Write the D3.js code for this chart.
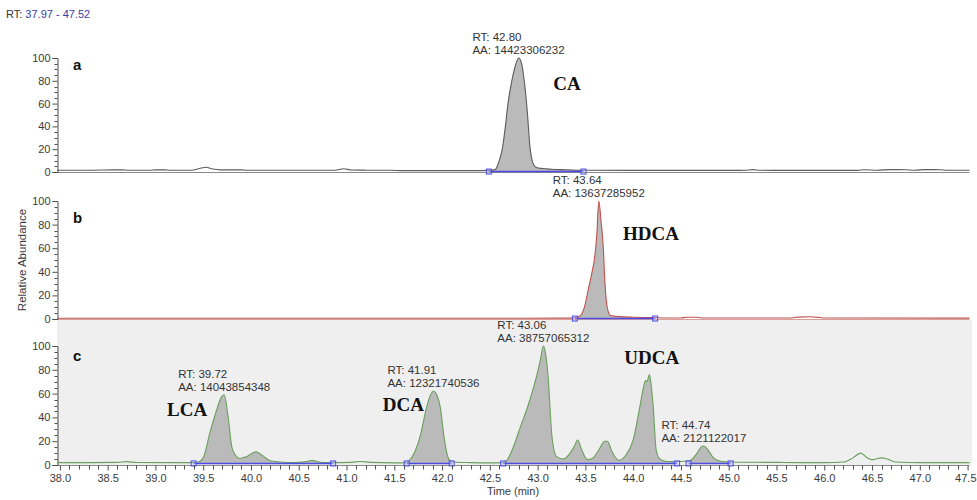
<!DOCTYPE html>
<html>
<head>
<meta charset="utf-8">
<script src="https://cdn.jsdelivr.net/npm/d3@7"></script>
<style>
  body { margin: 0; background: #fff; }
  text { font-family: "Liberation Sans", Arial, sans-serif; }
</style>
</head>
<body>
<svg id="chart" width="977" height="500"></svg>
<script>
// ---- data ---------------------------------------------------------------
const rtRange = [37.97, 47.52];
const timeTicks = [38.0, 38.5, 39.0, 39.5, 40.0, 40.5, 41.0, 41.5, 42.0, 42.5,
                   43.0, 43.5, 44.0, 44.5, 45.0, 45.5, 46.0, 46.5, 47.0, 47.5];
const abundanceTicks = [0, 20, 40, 60, 80, 100];
const panelNames = ["a", "b", "c"];

// [retention time (min), relative abundance (%)]
const traceCA = [
  [37.97, 1.5], [38.3, 1.5], [38.55, 1.9], [38.65, 1.9], [38.72, 1.5], [38.95, 1.5],
  [39.0, 1.9], [39.1, 1.9], [39.15, 1.5], [39.38, 1.6], [39.46, 3], [39.53, 4.2],
  [39.6, 2.6], [39.68, 1.9], [39.9, 1.9], [39.96, 1.5], [40.4, 1.5], [40.88, 1.6],
  [40.97, 2.8], [41.05, 1.8], [41.2, 1.6], [41.46, 1.5], [41.6, 1.2], [42.0, 1.2],
  [42.3, 1.2], [42.5, 1.4], [42.56, 2.5], [42.59, 8], [42.63, 20], [42.66, 38],
  [42.69, 60], [42.73, 80], [42.77, 94], [42.80, 100], [42.83, 96], [42.86, 80],
  [42.89, 55], [42.92, 22], [42.95, 8], [42.98, 4.2], [43.05, 3], [43.15, 2.4],
  [43.3, 2], [43.5, 1.5], [44.0, 1.4], [44.5, 1.4], [45.0, 1.4], [45.17, 1.5],
  [45.25, 2.1], [45.33, 1.5], [45.6, 1.4], [46.35, 1.4], [46.42, 2], [46.55, 1.6],
  [46.7, 2.1], [46.85, 2], [46.95, 1.6], [47.05, 2.1], [47.2, 2], [47.3, 1.5],
  [47.52, 1.5]
];
const traceHDCA = [
  [37.97, 0.6], [39.0, 0.6], [40.0, 0.6], [41.0, 0.6], [42.0, 0.6], [42.8, 0.6],
  [43.3, 0.7], [43.4, 1.2], [43.45, 3], [43.49, 10], [43.53, 25], [43.57, 40],
  [43.6, 54], [43.62, 72], [43.64, 100], [43.665, 82], [43.687, 61], [43.705, 30],
  [43.718, 16], [43.74, 6], [43.76, 3], [43.85, 2], [44.0, 1.5], [44.2, 1.2],
  [44.35, 0.8], [44.5, 0.8], [44.56, 1.5], [44.66, 1.5], [44.72, 0.9], [45.5, 0.8],
  [45.66, 0.9], [45.72, 1.6], [45.85, 1.9], [45.95, 1.3], [46.0, 0.8], [47.52, 0.7]
];
const traceMix = [
  [37.97, 2], [38.3, 2], [38.6, 2.2], [38.7, 2.8], [38.8, 2.1], [39.2, 2], [39.4, 2],
  [39.45, 2.5], [39.5, 6], [39.57, 27], [39.64, 46], [39.69, 57], [39.72, 59],
  [39.76, 41], [39.8, 15], [39.84, 8], [39.88, 5.5], [39.95, 7], [40.05, 11],
  [40.12, 8], [40.2, 3.5], [40.3, 2.5], [40.45, 2], [40.58, 2.8], [40.64, 4],
  [40.7, 2.8], [40.8, 2], [41.05, 2.2], [41.14, 3], [41.25, 2.2], [41.5, 1.8],
  [41.62, 2], [41.66, 4], [41.72, 12], [41.77, 24], [41.84, 49], [41.88, 59],
  [41.91, 62], [41.95, 58], [41.98, 49], [42.02, 24], [42.05, 10], [42.08, 4],
  [42.12, 2.5], [42.3, 2], [42.5, 1.8], [42.64, 2], [42.68, 4], [42.75, 16],
  [42.82, 32], [42.9, 50], [42.96, 66], [43.0, 78], [43.03, 89], [43.06, 100],
  [43.08, 95], [43.11, 74], [43.15, 24], [43.2, 7], [43.27, 5], [43.33, 9],
  [43.38, 15], [43.42, 21], [43.46, 13], [43.52, 4.5], [43.58, 6], [43.65, 14],
  [43.7, 20], [43.73, 20], [43.78, 11], [43.85, 4], [43.92, 8], [44.0, 21],
  [44.07, 49], [44.11, 66], [44.13, 71], [44.145, 70], [44.17, 76], [44.19, 66],
  [44.21, 49], [44.24, 13], [44.28, 5], [44.35, 3], [44.5, 3], [44.6, 4],
  [44.66, 9], [44.71, 15], [44.74, 16], [44.78, 13], [44.84, 6], [44.93, 3],
  [45.1, 2.3], [45.5, 2.2], [45.8, 2], [46.0, 2], [46.2, 2.5], [46.3, 6],
  [46.38, 10], [46.45, 6], [46.5, 4.5], [46.6, 6], [46.66, 5], [46.75, 2.5],
  [47.0, 2], [47.52, 2]
];

// integrated windows (start, end) per trace
const integrationCA = [[42.49, 43.48]];
const integrationHDCA = [[43.39, 44.23]];
const integrationMix = [[39.40, 40.86], [41.63, 42.10], [42.64, 44.46], [44.58, 45.02]];

// peak annotations: panel index, retention time, area
const peakPanels = [0, 1, 2, 2, 2, 2];
const peakTimes = [42.80, 43.64, 39.72, 41.91, 43.06, 44.74];
const peakAreas = ["14423306232", "13637285952", "14043854348", "12321740536",
                   "38757065312", "2121122017"];

const compoundNames = ["CA", "HDCA", "LCA", "DCA", "UDCA"];
const compoundPanels = [0, 1, 2, 2, 2];

// ---- layout -------------------------------------------------------------
const svg = d3.select("#chart");
const plotLeft = 57, plotRight = 969.5;
const panels = [
  { top: 58,  bottom: 172, trace: traceCA,   integ: integrationCA,   stroke: "#5b5b5b", base: 0.4 },
  { top: 201, bottom: 319, trace: traceHDCA, integ: integrationHDCA, stroke: "#c0504d", base: 0.4 },
  { top: 346, bottom: 465, trace: traceMix,  integ: integrationMix,  stroke: "#6a9f5c", base: 1.3 }
];
// anchor for each compound name, in (time, abundance) of its panel
const compoundAnchors = [[43.164, 72], [43.894, 67], [39.122, 41], [41.38, 45], [43.907, 85]];
const panelLabelBaseline = [70, 223, 361];

const x = d3.scaleLinear().domain(rtRange).range([plotLeft, plotRight]);
panels.forEach(p => {
  p.y = d3.scaleLinear().domain([0, 100]).range([p.bottom, p.top]);
});

const axisColor = "#4d4d4d";
const labelColor = "#3a3a3a";

// panel c shaded background
svg.append("rect")
  .attr("x", plotLeft).attr("y", 320)
  .attr("width", 972 - plotLeft).attr("height", 465 - 320)
  .attr("fill", "#efefef");

const defs = svg.append("defs");

panels.forEach((p, i) => {
  const g = svg.append("g");
  const line = d3.line().x(d => x(d[0])).y(d => p.y(d[1])).curve(d3.curveMonotoneX);
  const area = d3.area().x(d => x(d[0])).y0(p.y(p.base)).y1(d => p.y(d[1]))
    .curve(d3.curveMonotoneX);

  // integrated peak fills
  p.integ.forEach((w, j) => {
    const id = `clip-${i}-${j}`;
    defs.append("clipPath").attr("id", id).append("rect")
      .attr("x", x(w[0])).attr("y", p.top - 10)
      .attr("width", x(w[1]) - x(w[0])).attr("height", p.bottom - p.top + 10);
    g.append("path").datum(p.trace)
      .attr("d", area).attr("fill", "#bababa")
      .attr("clip-path", `url(#${id})`);
  });

  // baseline axis
  g.append("line")
    .attr("x1", plotLeft).attr("x2", plotRight)
    .attr("y1", p.bottom + 0.5).attr("y2", p.bottom + 0.5)
    .attr("stroke", i === 1 ? "#d9a09e" : "#8a8a8a").attr("stroke-width", 1);

  // y axis
  const yAxis = d3.axisLeft(p.y).tickValues(abundanceTicks).tickSize(5).tickPadding(2)
    .tickFormat(d3.format("d"));
  const ya = g.append("g").attr("transform", `translate(${plotLeft + 0.5},0)`).call(yAxis);
  ya.select(".domain").attr("stroke", axisColor);
  ya.selectAll(".tick line").attr("stroke", axisColor);
  ya.selectAll(".tick text").attr("fill", labelColor).style("font-size", "11px")
    .style("font-family", '"Liberation Sans", Arial, sans-serif');
  const minorY = d3.range(0, 101, 5).filter(v => v % 20 !== 0);
  g.selectAll(null).data(minorY).join("line")
    .attr("x1", plotLeft + 0.5).attr("x2", plotLeft - 2.5)
    .attr("y1", d => Math.round(p.y(d)) + 0.5).attr("y2", d => Math.round(p.y(d)) + 0.5)
    .attr("stroke", axisColor);

  // trace
  g.append("path").datum(p.trace)
    .attr("d", line).attr("fill", "none")
    .attr("stroke", p.stroke).attr("stroke-width", 1.1);

  // integration baselines with end markers
  p.integ.forEach(w => {
    const yb = p.y(p.base);
    g.append("line")
      .attr("x1", x(w[0])).attr("x2", x(w[1])).attr("y1", yb).attr("y2", yb)
      .attr("stroke", "#4b4be6").attr("stroke-width", 1.4);
    w.forEach(t => {
      g.append("rect")
        .attr("x", x(t) - 2.5).attr("y", yb - 2.5).attr("width", 5).attr("height", 5)
        .attr("fill", "rgba(200,200,255,0.4)").attr("stroke", "#4b4be6").attr("stroke-width", 1);
    });
  });

  // panel letter
  svg.append("text")
    .attr("x", 73).attr("y", panelLabelBaseline[i])
    .attr("fill", "#111").style("font-size", "15px").style("font-weight", "bold")
    .text(panelNames[i]);
});

// x axis on the bottom panel
const pc = panels[2];
const xAxis = d3.axisBottom(x).tickValues(timeTicks).tickSize(5).tickPadding(4)
  .tickFormat(d3.format(".1f"));
const xa = svg.append("g").attr("transform", `translate(0,${pc.bottom + 0.5})`).call(xAxis);
xa.select(".domain").remove();
xa.selectAll(".tick line").attr("stroke", axisColor);
xa.selectAll(".tick text").attr("fill", labelColor).style("font-size", "11px")
  .style("font-family", '"Liberation Sans", Arial, sans-serif');
// last label sits against the right edge of the frame
xa.selectAll(".tick text").filter(d => d === timeTicks[timeTicks.length - 1])
  .attr("text-anchor", "end").attr("x", 976 - x(timeTicks[timeTicks.length - 1]));
const minorX = d3.range(380, 476, 1).map(v => v / 10).filter(v => Math.round(v * 10) % 5 !== 0);
svg.selectAll(null).data(minorX).join("line")
  .attr("x1", d => Math.round(x(d)) + 0.5).attr("x2", d => Math.round(x(d)) + 0.5)
  .attr("y1", pc.bottom + 0.5).attr("y2", pc.bottom + 4.5)
  .attr("stroke", axisColor);

// axis titles
svg.append("text")
  .attr("x", 513).attr("y", 495).attr("text-anchor", "middle")
  .attr("fill", labelColor).style("font-size", "11px").text("Time (min)");
svg.append("text")
  .attr("transform", "translate(26,260) rotate(-90)").attr("text-anchor", "middle")
  .attr("fill", labelColor).style("font-size", "11.5px").text("Relative Abundance");

// range header
const hdr = svg.append("text").attr("x", 6).attr("y", 18).style("font-size", "11px");
hdr.append("tspan").attr("fill", "#333").text("RT: ");
hdr.append("tspan").attr("fill", "#3b3ba6").text(`${rtRange[0].toFixed(2)} - ${rtRange[1].toFixed(2)}`);

// peak annotations, centred over their peak apex
peakTimes.forEach((rt, k) => {
  const p = panels[peakPanels[k]];
  const apex = p.trace.filter(d => Math.abs(d[0] - rt) < 0.05)
    .reduce((a, b) => (b[1] > a[1] ? b : a));
  const px = x(rt), py = p.y(apex[1]);
  const block = svg.append("g");
  block.append("text").attr("y", py - 17).text(`RT: ${rt.toFixed(2)}`);
  const t2 = block.append("text").attr("y", py - 4).text(`AA: ${peakAreas[k]}`);
  block.selectAll("text").attr("fill", "#333").style("font-size", "11.5px");
  const w = t2.node().getComputedTextLength();
  block.selectAll("text").attr("x", px - w / 2);
});

// compound names
compoundNames.forEach((name, k) => {
  const p = panels[compoundPanels[k]];
  const a = compoundAnchors[k];
  svg.append("text")
    .attr("x", x(a[0])).attr("y", p.y(a[1]))
    .style("font-family", '"Liberation Serif", "Times New Roman", serif')
    .style("font-size", "19px").style("font-weight", "bold")
    .attr("fill", "#111").text(name);
});
</script>
</body>
</html>
